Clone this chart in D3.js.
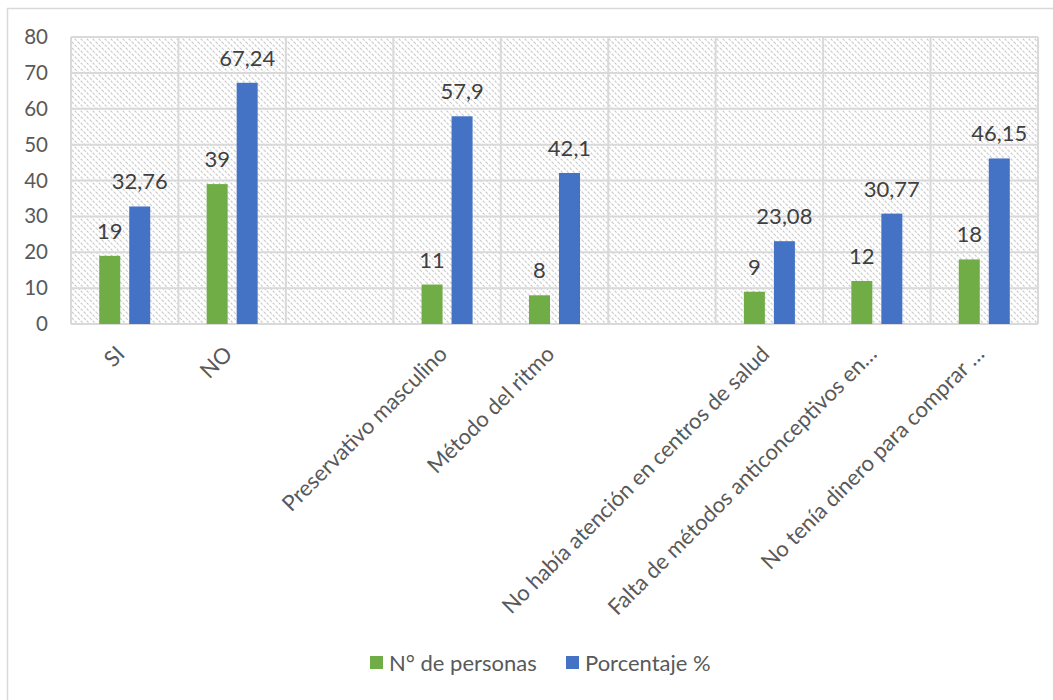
<!DOCTYPE html>
<html>
<head>
<meta charset="utf-8">
<script src="https://cdn.jsdelivr.net/npm/d3@7"></script>
<style>
  html, body { margin: 0; padding: 0; background: #fff; }
  svg { display: block; font-family: Lato, "Open Sans", sans-serif; }
</style>
</head>
<body>
<svg id="chart" width="1053" height="700"></svg>
<script>
// Categories (blank entries are empty slots on the axis)
const categories = [
  "SI", "NO", "",
  "Preservativo masculino", "Método del ritmo", "",
  "No había atención en centros de salud",
  "Falta de métodos anticonceptivos en…",
  "No tenía dinero para comprar …"
];
const personas   = [19, 39, null, 11, 8, null, 9, 12, 18];
const porcentaje = [32.76, 67.24, null, 57.9, 42.1, null, 23.08, 30.77, 46.15];
const seriesNames = ["N° de personas", "Porcentaje %"];
const seriesColors = ["#70AD47", "#4472C4"];
const yTicks = [0, 10, 20, 30, 40, 50, 60, 70, 80];

const svg = d3.select("#chart");
const plot = { left: 71, right: 1038, top: 37, bottom: 324 };

// Outer chart frame (left and top edges visible)
svg.append("rect")
  .attr("x", 7.5).attr("y", 8.5)
  .attr("width", 1060).attr("height", 700)
  .attr("fill", "#fff").attr("stroke", "#d9d9d9").attr("stroke-width", 1.5);

// Diagonal hatch fill for the plot area
const defs = svg.append("defs");
const pat = defs.append("pattern")
  .attr("id", "hatch").attr("patternUnits", "userSpaceOnUse")
  .attr("width", 6).attr("height", 6);
pat.append("rect").attr("width", 6).attr("height", 6).attr("fill", "#fff");
pat.append("path")
  .attr("d", "M0,0 L6,6 M-3,3 L3,9 M3,-3 L9,3")
  .attr("stroke", "#cacaca").attr("stroke-width", 1.1)
  .attr("stroke-dasharray", "2.5,1.4");

const idx = categories.map((d, i) => i);
const x0 = d3.scaleBand().domain(idx).range([plot.left, plot.right]).padding(0);
const x1 = d3.scaleBand().domain([0, 1]).range([0, x0.bandwidth()])
  .paddingInner(0.3).paddingOuter(0.94);
const y = d3.scaleLinear().domain([0, 80]).range([plot.bottom, plot.top]);

svg.append("rect")
  .attr("x", plot.left).attr("y", plot.top)
  .attr("width", plot.right - plot.left).attr("height", plot.bottom - plot.top)
  .attr("fill", "url(#hatch)");

// Gridlines
const grid = svg.append("g").attr("stroke", "#d9d9d9").attr("stroke-width", 2);
grid.selectAll("line.h").data(yTicks).join("line")
  .attr("x1", plot.left).attr("x2", plot.right)
  .attr("y1", d => y(d)).attr("y2", d => y(d));
grid.selectAll("line.v").data(idx.concat([categories.length])).join("line")
  .attr("y1", plot.top).attr("y2", plot.bottom)
  .attr("x1", d => d < categories.length ? x0(d) : plot.right)
  .attr("x2", d => d < categories.length ? x0(d) : plot.right);

// Y axis labels
const yAxis = d3.axisLeft(y).tickValues(yTicks).tickSize(0).tickPadding(0);
svg.append("g")
  .attr("transform", `translate(48,0)`)
  .call(yAxis)
  .call(g => g.select(".domain").remove())
  .selectAll("text")
  .attr("fill", "#595959").attr("font-size", 20.5)
  .attr("font-family", "Lato, 'Open Sans', sans-serif");

// Bars
const series = [personas, porcentaje];
series.forEach((vals, s) => {
  const data = vals.map((v, i) => ({ i, v })).filter(d => d.v != null);
  svg.append("g").selectAll("rect").data(data).join("rect")
    .attr("x", d => x0(d.i) + x1(s))
    .attr("width", x1.bandwidth())
    .attr("y", d => y(d.v))
    .attr("height", d => y(0) - y(d.v))
    .attr("fill", seriesColors[s]);
  svg.append("g").selectAll("text").data(data).join("text")
    .attr("x", d => x0(d.i) + x1(s) + x1.bandwidth() / 2)
    .attr("y", d => y(d.v) - 17)
    .attr("text-anchor", "middle")
    .attr("font-size", 22)
    .attr("fill", "#404040")
    .text(d => String(d.v).replace(".", ","));
});

// Category labels, rotated
const xAxis = d3.axisBottom(x0).tickSize(0).tickPadding(0).tickFormat(i => categories[i]);
svg.append("g")
  .attr("transform", `translate(0,${plot.bottom})`)
  .call(xAxis)
  .call(g => g.select(".domain").remove())
  .selectAll("text")
  .attr("font-size", 22)
  .attr("fill", "#595959")
  .attr("font-family", "Lato, 'Open Sans', sans-serif")
  .attr("text-anchor", "end")
  .attr("dy", "0.35em")
  .attr("transform", "translate(-4,26) rotate(-45)");

// Legend
const legend = svg.append("g").attr("transform", "translate(370,663)");
const offsets = [0, 196];
seriesNames.forEach((name, s) => {
  const g = legend.append("g").attr("transform", `translate(${offsets[s]},0)`);
  g.append("rect").attr("x", 0).attr("y", -7).attr("width", 13).attr("height", 13)
    .attr("fill", seriesColors[s]);
  g.append("text").attr("x", 19).attr("y", 0).attr("dy", "0.35em")
    .attr("font-size", 22).attr("fill", "#595959").text(name);
});
</script>
</body>
</html>
